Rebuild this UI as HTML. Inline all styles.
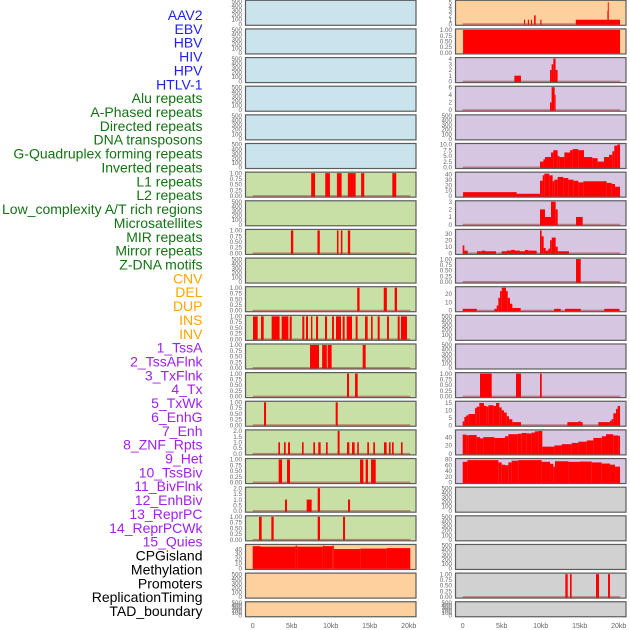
<!DOCTYPE html>
<html><head><meta charset="utf-8">
<style>
html,body{margin:0;padding:0;background:#fff;}
svg{display:block;font-family:"Liberation Sans",sans-serif;}
</style></head>
<body>
<svg id="chart" width="630" height="630" viewBox="0 0 630 630" xmlns="http://www.w3.org/2000/svg"></svg>
<script>
// ---- data ----
const trackLabels = ["AAV2","EBV","HBV","HIV","HPV","HTLV-1","Alu repeats","A-Phased repeats","Directed repeats","DNA transposons","G-Quadruplex forming repeats","Inverted repeats","L1 repeats","L2 repeats","Low_complexity A/T rich regions","Microsatellites","MIR repeats","Mirror repeats","Z-DNA motifs","CNV","DEL","DUP","INS","INV","1_TssA","2_TssAFlnk","3_TxFlnk","4_Tx","5_TxWk","6_EnhG","7_Enh","8_ZNF_Rpts","9_Het","10_TssBiv","11_BivFlnk","12_EnhBiv","13_ReprPC","14_ReprPCWk","15_Quies","CPGisland","Methylation","Promoters","ReplicationTiming","TAD_boundary"];
const labelGroups = ["v","v","v","v","v","v","r","r","r","r","r","r","r","r","r","r","r","r","r","s","s","s","s","s","c","c","c","c","c","c","c","c","c","c","c","c","c","c","c","o","o","o","o","o"];
const xTickValues = [0,5,10,15,20];
const xTickLabels = ["0","5kb","10kb","15kb","20kb"];
const leftGroups = ["v","v","v","v","v","v","r","r","r","r","r","r","r","r","r","r","r","r","r","s","s","s"];
const rightGroups = ["s","s","c","c","c","c","c","c","c","c","c","c","c","c","c","c","c","o","o","o","o","o"];
const leftMax = [500,500,500,500,500,500,1,500,1,500,1,1,1,1,1,2,1,2,1,47.5,500,500];
const rightMax = [5.2,1,4,6,500,10,42,3,35,1,27,500,500,1,15.5,55,80,500,500,500,1,500];
const leftTickSet = ["e","e","e","e","e","e","p","e","p","e","p","p","p","p","p","h","p","h","p","c40","e","e"];
const rightTickSet = ["i5","p","i4","i6","e","t10","c40","i3","c30","p","c20","e","e","p","t15","c40b","c80","e","e","e","p","e"];

const segL6 = [[7.5,8.0,1],[9.3,9.9,1],[10.8,11.4,1],[12.2,13.2,1],[13.9,14.3,1],[17.9,18.4,1]];
const segL8 = [[4.9,5.2,1],[8.3,8.6,1],[10.8,11.0,1],[11.3,11.5,1],[12.2,12.5,1]];
const segL10 = [[13.4,13.7,1],[16.8,17.2,1],[18.2,18.5,1]];
const segL11 = [[0.04,0.64,1],[1.06,1.41,1],[2.43,3.45,1],[3.71,4.57,1],[4.74,5.0,1],[6.36,6.62,1],[6.83,7.09,1],[7.47,7.65,1],[8.12,8.38,1],[9.27,9.53,1],[10.17,10.42,1],[10.68,11.32,1],[11.53,11.79,1],[12.05,12.73,1],[13.2,13.45,1],[14.4,14.74,1],[15.17,15.38,1],[16.02,16.28,1],[17.22,17.47,1],[18.59,18.84,1],[19.01,19.78,1]];
const segL12 = [[7.35,8.5,1],[8.9,9.5,1],[9.61,10.12,1],[14.1,14.48,1]];
const segL13 = [[12.09,12.35,1],[13.12,13.46,1]];
const segL14 = [[1.45,1.71,1],[10.64,10.9,1]];
const segL15 = [[3.29,3.5,1],[4.01,4.23,1],[4.53,4.78,1],[6.32,6.53,1],[7.77,7.99,1],[8.41,8.71,1],[9.4,9.61,1],[10.89,11.14,2],[12.09,12.39,1],[12.73,13.07,1],[13.4,13.61,1],[14.69,14.91,1],[15.46,15.68,1],[16.83,17.17,1],[17.47,17.68,1],[17.86,18.07,1],[19.01,19.22,1]];
const segL16 = [[3.33,3.76,1],[4.4,4.78,1],[13.76,14.19,1],[14.48,14.78,1],[15.17,15.77,1]];
const segL17 = [[4.14,4.4,1],[6.92,7.56,1],[8.33,8.63,2],[12.22,12.48,1]];
const segL18 = [[0.81,1.15,1],[2.39,2.69,1],[8.33,8.63,1],[11.58,11.84,1]];
const segL19 = [[0.0,1.0,46],[1.0,5.5,45],[5.5,5.7,47],[5.7,9.0,45],[9.0,9.2,47],[9.2,10.2,46],[10.2,10.4,47],[10.4,13.8,40],[13.8,17.2,41],[17.2,20.2,42]];

const segR0 = [[7.86,8.0,1],[8.35,8.5,1],[8.75,8.9,1],[9.15,9.35,2],[9.95,10.1,1],[14.5,20.17,1],[18.55,18.7,3],[18.6,18.72,5]];
const segR1 = [[0.05,20.17,1]];
const segR2 = [[6.62,7.47,1],[11.19,11.4,2],[11.4,11.62,3],[11.62,11.91,4],[11.91,12.17,2]];
const segR3 = [[11.19,11.4,2],[11.4,11.79,6],[11.79,11.91,4]];
const segR5 = [[9.91,10.34,2.5],[10.34,10.55,3.5],[10.55,11.32,4.5],[11.32,11.62,6.5],[11.62,12.17,7.5],[12.17,12.39,5],[12.39,13.03,4.5],[13.03,13.76,6.5],[13.76,14.1,7.5],[14.1,14.82,8],[14.82,15.55,7.5],[15.55,16.62,4.5],[16.62,17.3,4],[17.3,18.11,2.5],[18.11,18.76,4.5],[18.76,19.18,5.5],[19.18,19.44,7],[19.44,19.82,9.5],[19.82,20.17,10]];
const segR6 = [[0.05,6.92,7],[6.92,9.91,4],[9.91,10.25,28],[10.25,10.46,38],[10.46,11.1,41],[11.1,11.53,38],[11.53,11.74,27],[11.74,12.17,30],[12.17,12.9,35],[12.9,13.54,33],[13.54,14.18,30],[14.18,14.82,28],[14.82,15.46,25],[15.46,18.46,27],[18.46,19.1,24],[19.1,19.53,22],[19.53,20.17,17]];
const segR7 = [[9.91,10.55,2],[10.55,11.32,1],[11.32,11.92,3],[11.92,12.18,2],[14.53,15.38,1]];
const segR8 = [[0.0,0.21,12],[0.21,0.64,4],[1.83,2.43,3],[2.43,2.86,4],[2.86,4.27,3],[5.0,5.64,3],[5.64,6.2,4],[6.2,6.7,5],[6.7,7.35,4],[7.35,7.99,3],[7.99,8.41,5],[8.41,9.48,4],[9.91,10.12,35],[10.12,10.38,26],[10.38,10.64,8],[10.64,10.98,4],[10.98,11.2,7],[11.2,11.41,20],[11.41,11.92,24],[11.92,12.18,10],[12.18,13.63,3]];
const segR9 = [[14.53,15.13,1]];
const segR10 = [[0,1.8,2],[4.06,4.36,2],[4.36,4.57,6],[4.57,4.78,15],[4.78,5.0,23],[5.0,5.55,27],[5.55,5.77,23],[5.77,6.06,15],[6.06,6.36,8],[6.36,7.43,3],[11.72,12.56,2],[13.12,15.13,2],[18.16,20.08,2]];
const segR13 = [[2.22,3.72,1],[6.83,7.47,1],[9.91,10.13,1]];
const segR14 = [[0,0.21,2.5],[0.21,0.42,5.5],[0.42,0.72,6.5],[0.72,1.58,7.5],[1.58,1.79,11.5],[1.79,2.13,12.5],[2.13,2.73,15],[2.73,3.07,13],[3.07,3.29,12.5],[3.29,3.93,13.5],[3.93,4.27,13],[4.27,4.7,15],[4.7,5.0,12],[5.0,5.3,10],[5.3,5.64,8.5],[5.64,5.94,6],[5.94,6.36,4],[6.36,7.47,2],[13.42,14.83,2],[14.83,15.13,2.5],[15.13,15.38,2],[17.39,18.88,2],[18.88,19.1,3],[19.1,19.31,4],[19.31,19.65,8],[19.65,19.87,11],[19.87,20.17,13]];
const segR15 = [[0,0.51,46],[0.51,0.72,44],[0.72,1.79,45],[1.79,2.22,40],[2.22,2.65,37],[2.65,4.06,40],[4.06,5.42,38],[5.42,5.85,42],[5.85,7.05,47],[7.05,7.56,48],[7.56,8.2,50],[8.2,8.84,49],[8.84,9.27,51],[9.27,9.7,54],[9.7,10.21,55],[10.21,11.75,17],[11.75,12.69,20],[12.69,13.97,23],[13.97,14.83,26],[14.83,15.9,29],[15.9,16.75,32],[16.75,17.82,38],[17.82,18.37,42],[18.37,19.31,47],[19.31,19.95,44],[19.95,20.17,43]];
const segR16 = [[0,0.6,72],[0.6,4.57,78],[4.57,5.0,70],[5.0,5.42,62],[5.42,5.85,60],[5.85,6.28,70],[6.28,7.13,76],[7.13,10.12,78],[10.12,11.2,72],[11.2,11.62,65],[11.62,11.83,55],[11.83,13.55,74],[13.55,15.04,72],[15.04,16.54,73],[16.54,17.82,70],[17.82,18.88,66],[18.88,19.53,62],[19.53,20.17,55]];
const segR20 = [[13.16,13.46,1],[13.76,13.97,1],[17.09,17.47,1],[18.63,18.88,1]];

const leftSegs = [null,null,null,null,null,null,segL6,null,segL8,null,segL10,segL11,segL12,segL13,segL14,segL15,segL16,segL17,segL18,segL19,null,null];
const rightSegs = [segR0,segR1,segR2,segR3,null,segR5,segR6,segR7,segR8,segR9,segR10,null,null,segR13,segR14,segR15,segR16,null,null,null,segR20,null];

const tickSets = {
  e:{v:[0,100,200,300,400,500],l:["0","100","200","300","400","500"]},
  p:{v:[0,0.25,0.5,0.75,1],l:["0.00","0.25","0.50","0.75","1.00"]},
  h:{v:[0,0.5,1,1.5,2],l:["0.0","0.5","1.0","1.5","2.0"]},
  i5:{v:[0,1,2,3,4,5],l:["0","1","2","3","4","5"]},
  i4:{v:[0,1,2,3,4],l:["0","1","2","3","4"]},
  i6:{v:[0,2,4,6],l:["0","2","4","6"]},
  i3:{v:[0,1,2,3],l:["0","1","2","3"]},
  t10:{v:[0,2.5,5,7.5,10],l:["0.0","2.5","5.0","7.5","10.0"]},
  t15:{v:[0,5,10,15],l:["0","5","10","15"]},
  c20:{v:[0,10,20],l:["0","10","20"]},
  c30:{v:[0,10,20,30],l:["0","10","20","30"]},
  c40:{v:[0,10,20,30,40],l:["0","10","20","30","40"]},
  c40b:{v:[0,20,40],l:["0","20","40"]},
  c80:{v:[0,20,40,60,80],l:["0","20","40","60","80"]}
};

// ---- layout ----
const NS = "http://www.w3.org/2000/svg";
const svg = document.getElementById('chart');
const bg = {v:"#c9e4ec", r:"#c8e0a5", s:"#fdd09e", c:"#d7c6e1", o:"#d1d1d1"};
const labelColor = {v:"#1f1fef", r:"#137313", s:"#ffa500", c:"#a020f0", o:"#000000"};
const cols = [{x:245.5, x0:252.7, groups:leftGroups, max:leftMax, ticks:leftTickSet, segs:leftSegs, side:"left"},
              {x:455.5, x0:462.7, groups:rightGroups, max:rightMax, ticks:rightTickSet, segs:rightSegs, side:"right"}];
const PW = 170.5, KB = 7.8, STEP = 28.64;

function mk(tag, attrs, parent){
  const e = document.createElementNS(NS, tag);
  for (const k in attrs) e.setAttribute(k, attrs[k]);
  (parent||svg).appendChild(e);
  return e;
}

// labels
trackLabels.forEach((t,i)=>{
  const el = mk('text', {x:202.5, y:20 + i*13.86, 'text-anchor':'end', 'font-size':'14', fill:labelColor[labelGroups[i]]});
  el.textContent = t;
  
  
});

cols.forEach((c)=>{
  for (let i=0;i<22;i++){
    const top = i*STEP + 0.3;
    const h = i===21 ? 15 : 25;
    const bottom = top + h;
    const g = mk('g', {});
    
    
    mk('rect', {x:c.x, y:top, width:PW, height:h, fill:bg[c.groups[i]], stroke:'#5c5c5c', 'stroke-width':1.2}, g);
    const mx = c.max[i];
    const ys = v => (bottom - 1.2) - v/mx*(h - 2.2);
    const xs = kb => c.x0 + kb*KB;
    // y ticks
    const ts = tickSets[c.ticks[i]];
    ts.v.forEach((v,k)=>{
      const t = mk('text', {x:c.x-3.5, y:ys(v)+2.2, 'text-anchor':'end', 'font-size':'6.3', fill:'#666'}, g);
      t.textContent = ts.l[k];
      
      
    });
    const segs = c.segs[i];
    if (segs){
      if (!(c.side==='left' && i===19)){
        const bl = mk('line', {x1:xs(0), x2:xs(20.2), y1:ys(0), y2:ys(0), stroke:'rgba(170,60,60,0.55)', 'stroke-width':1.6}, g);
        
        
      }
      segs.forEach(s=>{
        const x1 = xs(s[0]), x2 = xs(s[1]);
        const y = ys(s[2]);
        const r = mk('rect', {x:x1, y:y, width:Math.max(0.8, x2-x1), height:Math.max(0, ys(0)+0.6-y), fill:'#ff0000'}, g);
        
        
      });
    }
  }
  // x axis
  xTickValues.forEach((v,k)=>{
    const t = mk('text', {x:c.x0 + v*KB, y:628, 'text-anchor':'middle', 'font-size':'7', fill:'#666'});
    t.textContent = xTickLabels[k];
    
    
  });
});
</script>
</body></html>
